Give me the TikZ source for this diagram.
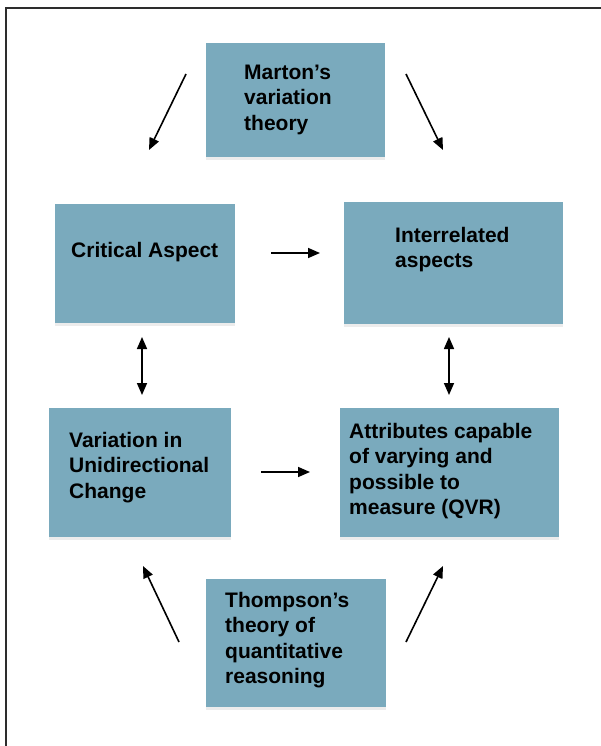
\documentclass[tikz,border=0pt]{standalone}
\usepackage{fontspec}
\setmainfont{Liberation Sans}
\usetikzlibrary{arrows.meta,shadows}
\definecolor{boxfill}{RGB}{122,170,189}
\definecolor{framecol}{RGB}{45,45,45}
\tikzset{
  box/.style={rectangle, fill=boxfill, draw=none, inner sep=0pt,
    drop shadow={opacity=0.15, shadow xshift=0bp, shadow yshift=-3bp}},
  txt/.style={anchor=base west, inner sep=0pt, font=\bfseries},
  arr/.style={line width=1.6bp, -{Triangle[length=12bp,width=10bp]}},
  darr/.style={line width=1.6bp, {Triangle[length=12bp,width=10bp]}-{Triangle[length=12bp,width=10bp]}}
}
\newcommand{\boxtext}[2]{\parbox[t]{#1bp}{\fontsize{21bp}{25.6bp}\selectfont\bfseries\raggedright #2}}
\begin{document}
\begin{tikzpicture}[x=1bp,y=-1bp]
\useasboundingbox (0,0) rectangle (601,746);
\fill[white] (0,0) rectangle (601,746);
% frame
\draw[framecol, line width=2bp] (6,750) -- (6,8) -- (605,8);
% boxes
\node[box, minimum width=179bp, minimum height=114bp] (marton) at (295.5,100) {};
\node[box, minimum width=180bp, minimum height=119bp] (critical) at (145,263.5) {};
\node[box, minimum width=219bp, minimum height=122bp] (interrel) at (453.5,263) {};
\node[box, minimum width=182bp, minimum height=129bp] (variation) at (140,472.5) {};
\node[box, minimum width=219bp, minimum height=129bp] (attrib) at (449.5,472.5) {};
\node[box, minimum width=180bp, minimum height=128bp] (thompson) at (296,643) {};
% texts
\node[txt] (tmarton) at (244,79) {\boxtext{140}{Marton’s\\variation\\theory}};
\node[txt] (tcritical) at (71,257) {\boxtext{160}{Critical Aspect}};
\node[txt] (tinterrel) at (395,242) {\boxtext{160}{Interrelated\\aspects}};
\node[txt] (tvariation) at (69,447) {\boxtext{160}{Variation in\\Unidirectional\\Change}};
\node[txt] (tattrib) at (349,438) {\boxtext{210}{Attributes capable\\of varying and\\possible to\\measure (QVR)}};
\node[txt] (tthompson) at (225,607) {\boxtext{160}{Thompson’s\\theory of\\quantitative\\reasoning}};
% arrow end points
\coordinate (m1s) at (186,74);  \coordinate (m1e) at (149,150);
\coordinate (m2s) at (406,74);  \coordinate (m2e) at (443,150);
\coordinate (c1s) at (271,253); \coordinate (c1e) at (320,253);
\coordinate (d1s) at (142,337); \coordinate (d1e) at (142,395);
\coordinate (d2s) at (449,337); \coordinate (d2e) at (449,395);
\coordinate (v1s) at (261,472); \coordinate (v1e) at (310,472);
\coordinate (t1s) at (179,642); \coordinate (t1e) at (143,566);
\coordinate (t2s) at (406,642); \coordinate (t2e) at (443,566);
% arrows
\draw[arr] (m1s) -- (m1e);
\draw[arr] (m2s) -- (m2e);
\draw[arr] (c1s) -- (c1e);
\draw[darr] (d1s) -- (d1e);
\draw[darr] (d2s) -- (d2e);
\draw[arr] (v1s) -- (v1e);
\draw[arr] (t1s) -- (t1e);
\draw[arr] (t2s) -- (t2e);
\end{tikzpicture}
\end{document}
